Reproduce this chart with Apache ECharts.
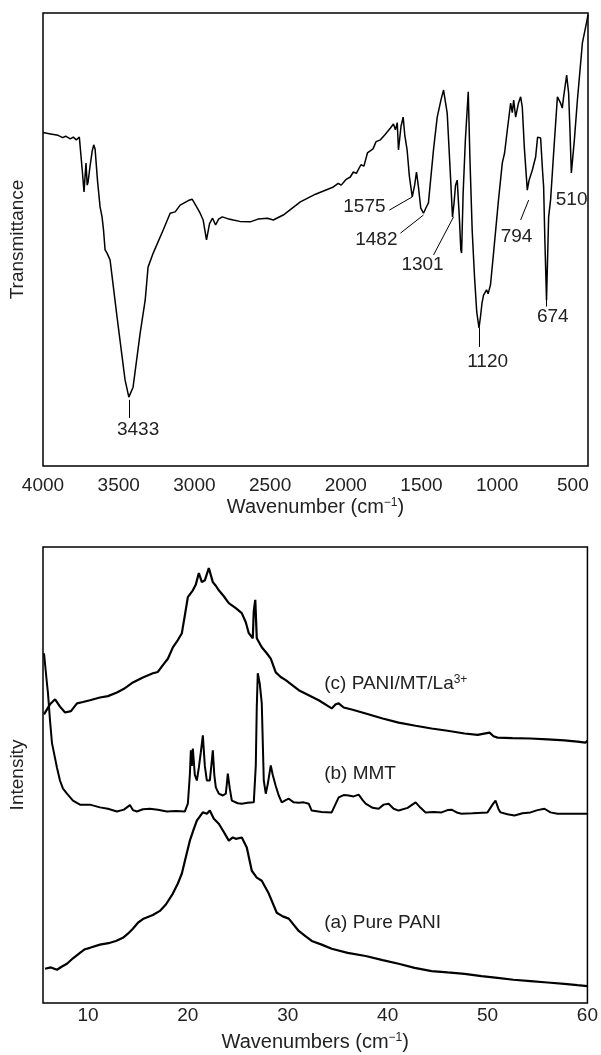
<!DOCTYPE html>
<html>
<head>
<meta charset="utf-8">
<script src="https://cdn.jsdelivr.net/npm/echarts@6/dist/echarts.min.js"></script>
<style>
  html, body { margin: 0; padding: 0; background: #fff; }
  #main { width: 601px; height: 1055px; }
</style>
</head>
<body>
<div id="main"></div>
<script>
// FTIR spectrum: [wavenumber, transmittance]
var ftirData = [
  [4000,73.6],[3950,73.3],[3900,73.0],[3870,72.5],[3850,72.8],[3820,72.2],[3800,72.6],[3780,72.0],
  [3760,72.6],[3748,72.4],[3740,65],[3729,60.5],[3722,64],[3716,66.9],[3708,62],[3702,62.7],
  [3690,66],[3675,69.5],[3665,70.9],[3656,70.0],[3640,63],[3623,57.2],[3610,55.0],[3600,52],
  [3590,47.7],[3577,47.0],[3557,45.5],[3511,32.9],[3458,19.0],[3433,15.2],[3405,17.4],[3358,29.4],
  [3325,36.6],[3306,43.9],[3272,47.0],[3206,52.1],[3160,55.8],[3127,56.1],[3094,57.6],[3040,58.6],
  [3015,58.9],[2990,57.5],[2962,55.8],[2942,54.3],[2920,49.9],[2900,53.5],[2880,54.7],[2860,53.2],
  [2840,54.5],[2816,55.0],[2780,54.6],[2743,54.3],[2700,54.0],[2631,53.9],[2580,54.5],[2518,54.7],
  [2479,54.3],[2413,55.4],[2300,58.3],[2200,60],[2082,61.6],[2050,62.4],[2030,62.0],[2000,63.2],
  [1970,63.8],[1950,64.9],[1930,64.6],[1900,66.5],[1880,66.2],[1857,69.1],[1820,70],[1800,71.6],
  [1771,72.0],[1740,73.2],[1705,74.6],[1685,75.5],[1672,74.2],[1660,75.8],[1652,69.8],[1635,75],
  [1621,77.0],[1610,73],[1595,69.8],[1580,64],[1561,59.4],[1545,62],[1533,64.9],[1520,61.6],
  [1505,57],[1487,55.8],[1470,57],[1454,58.1],[1420,70],[1396,77.0],[1370,81],[1354,83.0],
  [1340,80],[1330,77.9],[1310,65],[1295,55.0],[1285,58],[1275,62],[1264,63.1],[1250,55],
  [1240,47.7],[1235,47.0],[1225,60],[1210,72],[1191,82.6],[1180,68],[1165,52],[1150,42],
  [1135,34],[1120,30.5],[1110,33],[1100,36.0],[1090,37.7],[1070,38.9],[1060,38.0],[1044,40],
  [1024,47.0],[991,58.8],[966,66.9],[951,69.1],[930,75],[911,80.1],[900,78],[891,80.8],
  [878,77.0],[860,80],[845,81.5],[834,79.2],[820,70],[801,60.9],[790,63],[768,65.3],
  [746,68.2],[733,72.6],[713,72.4],[700,65],[693,61.6],[685,50],[674,36.6],[660,55],
  [647,58.8],[627,69.1],[602,81.5],[581,80.1],[570,79],[561,81.5],[541,86.3],[528,82.3],
  [520,75],[510,64.7],[490,72],[470,80.8],[437,93.4],[409,98.0],[400,99.6]
];

// XRD patterns: [2theta, intensity]
var xrdPani = [
  [5.7,7.5],[6.3,7.8],[6.9,7.3],[7.4,8.0],[7.9,8.6],[8.5,9.8],[9.2,11.0],[9.7,11.8],[10.2,12.1],
  [11.2,12.8],[12.2,13.2],[12.8,13.6],[13.5,14.3],[14.0,15.2],[14.5,16.3],[15.0,17.6],[15.5,18.4],
  [16.5,19.3],[17.2,20.2],[17.8,21.6],[18.5,24.0],[19.0,26.2],[19.4,28.4],[19.8,32],[20.2,35.6],
  [20.6,38.2],[20.9,40.0],[21.5,41.8],[21.9,41.5],[22.2,42.2],[22.6,40.4],[23.1,39.3],[23.6,37.5],
  [24.1,35.6],[24.5,36.3],[24.8,36.0],[25.4,36.3],[25.9,34.1],[26.4,29.0],[26.9,27.5],[27.4,26.8],
  [28.1,24.0],[28.9,19.8],[29.5,19.0],[30.1,18.5],[31.1,15.8],[31.8,14.6],[32.4,13.6],[33.4,12.8],
  [34.4,11.9],[36.0,11.0],[37.8,10.3],[39.5,9.4],[41.1,8.6],[42.7,7.7],[44.4,7.0],[46.0,6.7],
  [47.7,6.4],[49.4,5.9],[51.0,5.5],[52.6,5.1],[54.3,4.8],[56.0,4.5],[57.7,4.2],[59,3.9],[60,3.7]
];
var xrdMmt = [
  [5.6,76.7],[5.8,76.7],[5.9,70],[6.0,67.9],[6.2,62],[6.4,57],[6.9,51.6],[7.2,48.8],[7.5,47],
  [7.9,45.9],[8.5,44.4],[9.2,43.5],[10.2,43.5],[11.2,42.9],[12.0,42.6],[12.9,42.0],[13.6,42.4],
  [14.2,43.4],[14.5,42.3],[14.9,42.0],[15.5,42.5],[16.2,42.6],[17.0,42.4],[17.9,42.0],[18.8,42.1],
  [19.7,42.0],[20.0,43.7],[20.2,50],[20.3,55.4],[20.4,52],[20.5,55.8],[20.7,50],[20.9,48.8],
  [21.1,51.6],[21.3,55],[21.5,58.7],[21.7,52],[21.9,48.8],[22.2,48.8],[22.35,52],[22.5,55.4],
  [22.65,50],[22.8,47.3],[23.1,45.9],[23.5,45.5],[23.8,45.9],[23.9,48],[24.0,50.3],[24.2,47],
  [24.4,44.4],[25.0,43.8],[25.4,43.7],[26.0,43.9],[26.6,44.0],[26.8,52],[26.9,65],[27.0,72.3],
  [27.2,70],[27.4,65.7],[27.6,48.8],[27.8,45.9],[28.0,48],[28.3,52.1],[28.5,50],[28.8,47.6],
  [29.1,45.5],[29.4,44.0],[29.8,44.5],[30.1,44.8],[30.6,44],[31.1,43.9],[31.6,44.0],[32.1,43.7],
  [32.4,42.2],[33.4,41.9],[34.4,41.8],[35.1,45.1],[35.6,45.6],[36.1,45.5],[36.6,45.3],[37.1,45.7],
  [37.5,44.5],[37.8,43.7],[38.5,42.8],[39.1,42.6],[39.6,43.5],[40.1,43.7],[40.6,42.6],[41.1,42.2],
  [42.0,42.8],[42.8,44.0],[43.3,42.8],[43.8,41.8],[44.6,41.9],[45.4,41.8],[46.0,42.3],[46.4,42.4],
  [47.0,41.7],[47.4,41.5],[48.5,41.6],[50.0,41.8],[50.5,43.5],[50.8,44.4],[51.1,42.5],[51.3,41.8],
  [52.0,41.4],[52.7,41.1],[53.5,41.6],[54.3,41.8],[55.0,42.3],[55.7,42.6],[56.3,41.8],[57.0,41.5],
  [58.3,41.5],[60,41.5]
];
var xrdComposite = [
  [5.6,63.3],[5.72,63.5],[6.2,65.5],[6.71,66.6],[7.2,65],[7.71,63.7],[8.3,64],[8.9,65.7],[9.5,66],
  [10.2,66.4],[11.2,67.0],[12.0,67.3],[12.9,68.1],[13.6,68.9],[14.5,70.3],[15.5,71.4],[16.5,72.3],
  [17.0,72.6],[17.5,74.1],[18.0,75.5],[18.5,78.0],[19.0,79.6],[19.4,81.1],[19.7,85],[20.0,89.0],
  [20.5,90.5],[20.8,91.8],[21.1,94.3],[21.4,92.3],[21.7,92.7],[22.1,95.4],[22.5,92.3],[22.8,91.5],
  [23.1,90.5],[23.6,89.2],[24.1,87.7],[24.8,86.6],[25.4,85.5],[25.8,83.5],[26.1,81.1],[26.5,80.0],
  [26.6,86],[26.75,88.4],[26.9,80],[27.4,78.0],[27.9,76.7],[28.3,75.5],[28.8,72.5],[29.3,71.5],
  [29.8,70.8],[31.1,68.6],[32.0,67.6],[33.1,66.4],[34.4,64.6],[34.8,65.5],[35.1,65.7],[35.6,64.8],
  [36.5,64.3],[37.8,63.5],[39.5,62.4],[41.1,61.5],[42.8,60.8],[44.4,60.2],[46,59.7],[47.7,59.1],
  [49,58.8],[50.2,59.3],[50.6,58.5],[51.0,58.2],[52.5,58.1],[54.3,58.0],[56,57.8],[57.7,57.6],
  [59,57.3],[59.8,57.1],[60,57.5]
];

var ftirTicks = [4000, 3500, 3000, 2500, 2000, 1500, 1000, 500];
var xrdTicks = [10, 20, 30, 40, 50, 60];

// peak labels: text, label position, leader line start/end
var ftirLabels = [
  { text: '3433', at: [3372, 7.9],  from: [3433, 14.6], to: [3433, 10.6] },
  { text: '1575', at: [1877, 57.2], from: [1712, 56.5], to: [1561, 59.4] },
  { text: '1482', at: [1798, 49.9], from: [1639, 51.4], to: [1487, 55.4] },
  { text: '1301', at: [1493, 44.4], from: [1420, 46.6], to: [1288, 55.0] },
  { text: '1120', at: [1063, 23.0], from: [1120, 30.5], to: [1120, 26.3] },
  { text: '794',  at: [872, 50.6],  from: [845, 54.3],  to: [792, 58.7] },
  { text: '674',  at: [633, 32.9],  from: [674, 41.0],  to: [674, 35.2] },
  { text: '510',  at: [508, 58.7] }
];
var xrdLabels = [
  { text: '(c) PANI/MT/La{sup|3+}', at: [33.6, 70.1] },
  { text: '(b) MMT', at: [33.6, 50.3] },
  { text: '(a) Pure PANI', at: [33.6, 17.6] }
];

var FONT = 'Liberation Sans, Arial, Helvetica, sans-serif';
var supRich = { sup: { fontSize: 12, verticalAlign: 'top', lineHeight: 14, fontFamily: FONT, color: '#222' } };
var plain = function (v) { return String(v); };

var myChart = echarts.init(document.getElementById('main'));

var leaders = ftirLabels.filter(function (d) { return d.from; }).map(function (d) {
  return [{ coord: d.from }, { coord: d.to }];
});

option = {
  animation: false,
  textStyle: { fontFamily: FONT },
  grid: [
    { left: 43, top: 13, width: 545, height: 453, show: true, borderColor: '#000', borderWidth: 1.5 },
    { left: 43, top: 547, width: 548, height: 456, show: true, borderColor: '#000', borderWidth: 1.5 }
  ],
  xAxis: [
    {
      gridIndex: 0, type: 'value', min: 400, max: 4000, inverse: true,
      axisLine: { show: false }, axisTick: { show: false }, splitLine: { show: false },
      axisLabel: { customValues: ftirTicks, formatter: plain, fontSize: 19, color: '#222', margin: 10, fontFamily: FONT },
      name: 'Wavenumber (cm{sup|\u22121})', nameLocation: 'middle', nameGap: 31,
      nameTextStyle: { fontSize: 20, color: '#222', fontFamily: FONT, rich: supRich }
    },
    {
      gridIndex: 1, type: 'value', min: 5.5, max: 60,
      axisLine: { show: false }, axisTick: { show: false }, splitLine: { show: false },
      axisLabel: { customValues: xrdTicks, formatter: plain, fontSize: 19, color: '#222', margin: 3, fontFamily: FONT },
      name: 'Wavenumbers (cm{sup|\u22121})', nameLocation: 'middle', nameGap: 29,
      nameTextStyle: { fontSize: 20, color: '#222', fontFamily: FONT, rich: supRich }
    }
  ],
  yAxis: [
    {
      gridIndex: 0, type: 'value', min: 0, max: 100,
      axisLine: { show: false }, axisTick: { show: false }, splitLine: { show: false },
      axisLabel: { show: false },
      name: 'Transmittance', nameLocation: 'middle', nameGap: 16,
      nameTextStyle: { fontSize: 19, color: '#222', fontFamily: FONT }
    },
    {
      gridIndex: 1, type: 'value', min: 0, max: 100,
      axisLine: { show: false }, axisTick: { show: false }, splitLine: { show: false },
      axisLabel: { show: false },
      name: 'Intensity', nameLocation: 'middle', nameGap: 16,
      nameTextStyle: { fontSize: 19, color: '#222', fontFamily: FONT }
    }
  ],
  series: [
    {
      name: 'FTIR', type: 'line', xAxisIndex: 0, yAxisIndex: 0,
      data: ftirData, showSymbol: false, smooth: false,
      lineStyle: { color: '#000', width: 1.5 },
      markLine: {
        silent: true, symbol: ['none', 'none'], label: { show: false },
        lineStyle: { color: '#000', width: 1, type: 'solid' },
        data: leaders
      },
      markPoint: {
        silent: true, symbol: 'circle', symbolSize: 1,
        itemStyle: { color: 'rgba(0,0,0,0)' },
        label: { show: true, position: 'inside', fontSize: 19, color: '#222', fontFamily: FONT,
          formatter: function (p) { return p.name; } },
        data: ftirLabels.map(function (d) { return { name: d.text, coord: d.at }; })
      }
    },
    {
      name: 'PANI/MT/La', type: 'line', xAxisIndex: 1, yAxisIndex: 1,
      data: xrdComposite, showSymbol: false,
      lineStyle: { color: '#000', width: 2.2 }
    },
    {
      name: 'MMT', type: 'line', xAxisIndex: 1, yAxisIndex: 1,
      data: xrdMmt, showSymbol: false,
      lineStyle: { color: '#000', width: 2 }
    },
    {
      name: 'Pure PANI', type: 'line', xAxisIndex: 1, yAxisIndex: 1,
      data: xrdPani, showSymbol: false,
      lineStyle: { color: '#000', width: 2.2 },
      markPoint: {
        silent: true, symbol: 'circle', symbolSize: 1,
        itemStyle: { color: 'rgba(0,0,0,0)' },
        label: { show: true, position: 'right', distance: 0, fontSize: 19, color: '#222', fontFamily: FONT,
          rich: supRich, formatter: function (p) { return p.name; } },
        data: xrdLabels.map(function (d) { return { name: d.text, coord: d.at }; })
      }
    }
  ]
};
myChart.setOption(option);
</script>
</body>
</html>
